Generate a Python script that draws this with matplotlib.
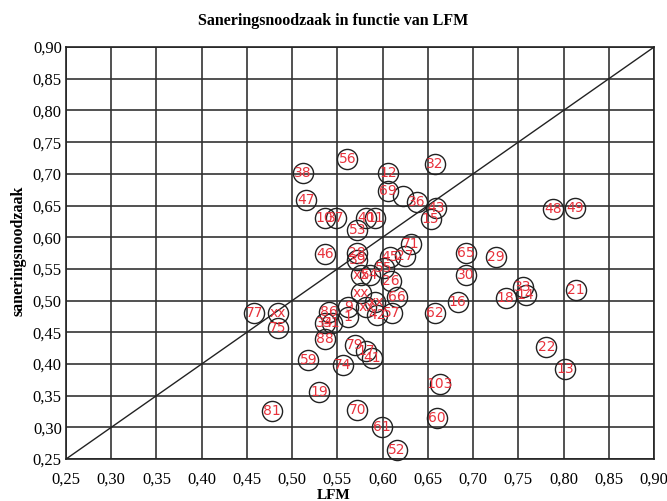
import matplotlib
matplotlib.use("Agg")
from matplotlib import pyplot as plt
import numpy as np

# LFM (x) and saneringsnoodzaak (y) per locatie
labels = ["56", "38", "12", "69", "", "36", "47", "10", "37", "53", "40", "11",
          "46", "28", "39", "71", "45", "27", "55", "xx", "54", "26", "xx", "66",
          "xx", "xx", "42", "57", "9", "1", "77", "xx", "75", "86", "34", "31",
          "88", "79", "17", "41", "59", "74", "19", "81", "70", "61", "52",
          "33", "18", "14", "21", "16", "62", "22", "13", "103", "60",
          "32", "43", "15", "48", "49", "65", "29", "30"]
lfm = [0.561, 0.512, 0.606, 0.606, 0.622, 0.638, 0.515, 0.536, 0.548, 0.572, 0.582, 0.592,
       0.536, 0.572, 0.572, 0.631, 0.608, 0.625, 0.601, 0.576, 0.586, 0.609, 0.576, 0.616,
       0.592, 0.582, 0.594, 0.610, 0.562, 0.562, 0.458, 0.484, 0.484, 0.541, 0.536, 0.544,
       0.536, 0.569, 0.582, 0.588, 0.518, 0.556, 0.530, 0.478, 0.572, 0.599, 0.616,
       0.755, 0.736, 0.758, 0.814, 0.683, 0.658, 0.781, 0.802, 0.663, 0.660,
       0.658, 0.659, 0.653, 0.788, 0.813, 0.692, 0.725, 0.692]
sanering = [0.723, 0.701, 0.701, 0.673, 0.665, 0.656, 0.658, 0.631, 0.631, 0.612, 0.630, 0.630,
            0.573, 0.575, 0.564, 0.589, 0.569, 0.571, 0.551, 0.540, 0.540, 0.531, 0.512, 0.505,
            0.498, 0.490, 0.477, 0.480, 0.490, 0.474, 0.480, 0.481, 0.456, 0.482, 0.465, 0.464,
            0.439, 0.430, 0.421, 0.410, 0.406, 0.399, 0.356, 0.325, 0.327, 0.301, 0.264,
            0.522, 0.504, 0.509, 0.517, 0.497, 0.481, 0.426, 0.392, 0.369, 0.314,
            0.715, 0.646, 0.628, 0.644, 0.646, 0.575, 0.568, 0.540]

ticks = np.round(np.arange(0.25, 0.901, 0.05), 2)
tick_labels = [("%.2f" % t).replace(".", ",") for t in ticks]

fig = plt.figure(figsize=[6.67, 5.01], dpi=100)
ax = fig.add_axes([0.099, 0.0838, 0.8815, 0.8222])

ax.set_xlim(0.25, 0.90)
ax.set_ylim(0.25, 0.90)
ax.set_xticks(ticks)
ax.set_yticks(ticks)
ax.set_xticklabels(tick_labels, family="Liberation Serif", fontsize=12)
ax.set_yticklabels(tick_labels, family="Liberation Serif", fontsize=12)
ax.tick_params(length=0)
ax.tick_params(axis="x", pad=9)
ax.tick_params(axis="y", pad=3)
ax.grid(True, color="#333333", linewidth=1.2)
for s in ax.spines.values():
    s.set_color("#222222")
    s.set_linewidth(1.2)

ax.plot([0.25, 0.90], [0.25, 0.90], color="#222222", linewidth=1.0, zorder=3)

ax.plot(lfm, sanering, linestyle="none", marker="o", markersize=14.5,
        markerfacecolor="none", markeredgecolor="#222222", markeredgewidth=1.0,
        clip_on=False, zorder=4)
for lab, x, y in zip(labels, lfm, sanering):
    ax.text(x, y, lab, color="#e8323c", fontsize=10, ha="center", va="center",
            family="DejaVu Sans", zorder=5)

fig.text(0.5, 0.958, "Saneringsnoodzaak in functie van LFM", ha="center", va="center",
         family="Liberation Serif", fontweight="bold", fontsize=11.5)
fig.text(0.5, -0.002, "LFM", ha="center", va="bottom",
         family="Liberation Serif", fontweight="bold", fontsize=11)
fig.text(0.027, 0.50, "saneringsnoodzaak", ha="center", va="center", rotation=90,
         family="Liberation Serif", fontweight="bold", fontsize=11.5)

fig.savefig("out.png", dpi=100)
